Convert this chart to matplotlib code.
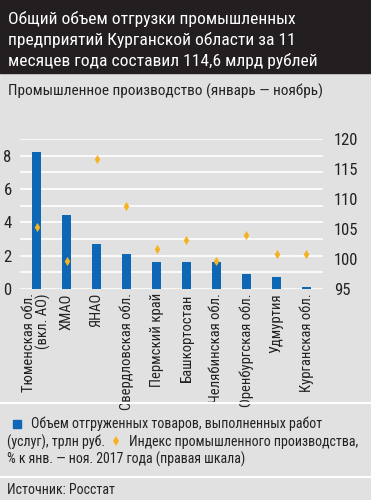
import matplotlib
matplotlib.use("Agg")
import matplotlib.pyplot as plt
from matplotlib import font_manager

regions = [
    "Тюменская обл.\n(вкл. АО)",
    "ХМАО",
    "ЯНАО",
    "Свердловская обл.",
    "Пермский край",
    "Башкортостан",
    "Челябинская обл.",
    "Оренбургская обл.",
    "Удмуртия",
    "Курганская обл.",
]
shipped = [8.2, 4.45, 2.7, 2.1, 1.65, 1.65, 1.65, 0.9, 0.7, 0.1]
index_pct = [105.4, 99.7, 116.7, 108.8, 101.7, 103.1, 99.6, 104.0, 100.9, 100.9]
left_ticks = [0, 2, 4, 6, 8]
right_ticks = [95, 100, 105, 110, 115, 120]

# narrow font like the original, pick what is installed
names = {f.name for f in font_manager.fontManager.ttflist}
font = "DejaVu Sans"
for cand in ["Roboto Condensed", "PT Sans Narrow", "Fira Sans Condensed", "Archivo Narrow"]:
    if cand in names:
        font = cand
        break
plt.rcParams["font.family"] = [font, "DejaVu Sans"]

bg = "#e1e1e1"
blue = "#0d67b5"
orange = "#f5b320"
dark = "#231f20"
ink = "#222222"

fig = plt.figure(figsize=(3.71, 5.0), dpi=100, facecolor=bg)

# title box
fig.patches.append(plt.Rectangle((0, 1 - 73 / 500), 1, 73 / 500, transform=fig.transFigure,
                                 color=dark, zorder=0))
fig.text(8 / 371, 1 - 40 / 500,
         "Общий объем отгрузки промышленных\nпредприятий Курганской области за 11\nмесяцев года составил 114,6 млрд рублей",
         color="white", fontsize=12.6, va="center", ha="left", linespacing=1.35)
fig.text(8 / 371, 1 - 91 / 500, "Промышленное производство (январь — ноябрь)",
         color=ink, fontsize=11, va="center", ha="left")

# separators
for y in (403, 477):
    fig.add_artist(plt.Line2D([0, 1], [1 - y / 500] * 2, color="white", lw=1.5,
                              transform=fig.transFigure))

ax = fig.add_axes([20 / 371, 1 - 289 / 500, 303 / 371, 150 / 500])
ax.set_facecolor(bg)
x = range(len(regions))
ax.bar(x, shipped, width=0.32, color=blue, zorder=3)
ax.set_ylim(0, 9)
ax.set_xlim(-0.55, 9.55)
for v in range(0, 10):
    ax.axhline(v, color="white", lw=1.2, zorder=1)
ax.set_yticks(left_ticks)
ax.tick_params(axis="y", length=0, labelsize=12, pad=6, labelcolor=ink)
ax.set_xticks(list(x))
ax.set_xticklabels(regions, rotation=90, fontsize=10.5, va="top", ha="center",
                   multialignment="right", color=ink, linespacing=0.95)
ax.tick_params(axis="x", length=0, pad=3)
for s in ax.spines.values():
    s.set_visible(False)

ax2 = ax.twinx()
ax2.scatter(x, index_pct, marker="d", s=22, color=orange, zorder=4, linewidths=0)
ax2.set_ylim(95, 120)
ax2.set_yticks(right_ticks)
ax2.tick_params(axis="y", length=0, labelsize=12, pad=8, labelcolor=ink)
for s in ax2.spines.values():
    s.set_visible(False)

# legend
fs = 10
fig.add_artist(plt.Line2D([17 / 371], [1 - 424 / 500], marker="s", ms=5.5, color=blue,
                          transform=fig.transFigure))
fig.text(31 / 371, 1 - 424 / 500, "Объем отгруженных товаров, выполненных работ",
         fontsize=fs, va="center", ha="left", color=ink)
fig.text(7 / 371, 1 - 442 / 500, "(услуг), трлн руб.",
         fontsize=fs, va="center", ha="left", color=ink)
fig.add_artist(plt.Line2D([116 / 371], [1 - 441 / 500], marker="d", ms=5, color=orange,
                          transform=fig.transFigure, markeredgewidth=0))
fig.text(129 / 371, 1 - 442 / 500, "Индекс промышленного производства,",
         fontsize=fs, va="center", ha="left", color=ink)
fig.text(7 / 371, 1 - 459 / 500, "% к янв. — ноя. 2017 года (правая шкала)",
         fontsize=fs, va="center", ha="left", color=ink)
fig.text(7 / 371, 1 - 490 / 500, "Источник: Росстат",
         fontsize=fs, va="center", ha="left", color=ink)

fig.savefig("out.png", dpi=100, facecolor=bg)
